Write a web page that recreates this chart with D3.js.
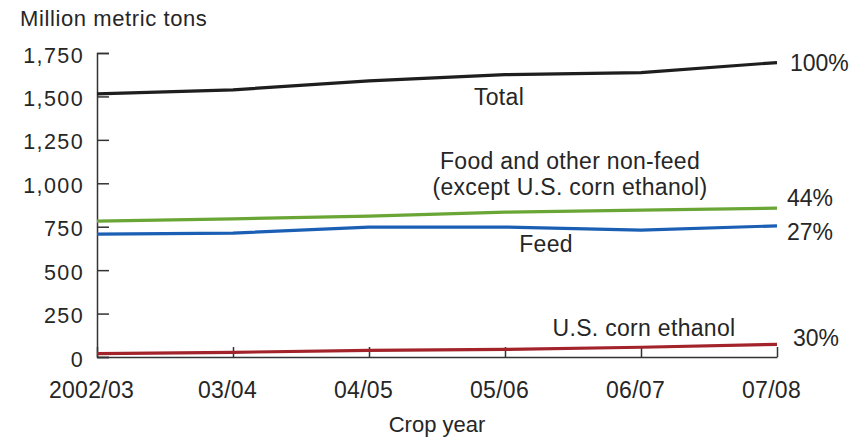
<!DOCTYPE html>
<html>
<head>
<meta charset="utf-8">
<script src="https://cdn.jsdelivr.net/npm/d3@7"></script>
<style>
  html, body { margin: 0; padding: 0; background: #fff; }
  svg text { font-family: "Liberation Sans", Arial, sans-serif; fill: #262626; }
</style>
</head>
<body>
<svg id="chart" width="864" height="440"></svg>
<script>
// Crop years on the x axis
const cropYears = ["2002/03", "03/04", "04/05", "05/06", "06/07", "07/08"];

// Corn use, million metric tons
const totalUse    = [1515, 1538, 1590, 1625, 1637, 1695];
const foodNonFeed = [782, 795, 811, 834, 846, 857];
const feedUse     = [707, 713, 748, 748, 730, 755];
const ethanolUse  = [20, 27, 38, 44, 56, 73];

const yTicks = [0, 250, 500, 750, 1000, 1250, 1500, 1750];

const seriesList = [
  { name: "Total",   values: totalUse,    color: "#1e1e1e", pct: "100%" },
  { name: "Food",    values: foodNonFeed, color: "#6aa636", pct: "44%" },
  { name: "Feed",    values: feedUse,     color: "#1b5fb5", pct: "27%" },
  { name: "Ethanol", values: ethanolUse,  color: "#a3232b", pct: "30%" }
];

const svg = d3.select("#chart");
const margin = { left: 97, right: 87, top: 53, bottom: 83 };
const W = 864, H = 440;

const x = d3.scalePoint().domain(cropYears).range([margin.left, W - margin.right]);
const y = d3.scaleLinear().domain([0, 1750]).range([H - margin.bottom, margin.top]);

// Y axis: ticks pointing into the plot
const yAxis = svg.append("g")
  .attr("transform", `translate(${margin.left},0)`)
  .call(d3.axisRight(y).tickValues(yTicks).tickSize(12).tickFormat(d3.format(",")));
yAxis.select(".domain").attr("stroke", "#333").attr("stroke-width", 1.5);
yAxis.selectAll(".tick line").attr("stroke", "#333").attr("stroke-width", 1.5);
yAxis.selectAll(".tick text")
  .attr("x", -13).attr("text-anchor", "end")
  .attr("font-size", 21.5).attr("letter-spacing", 1.4).attr("fill", "#262626")
  .attr("dy", "0.42em");

// X axis: ticks pointing up
const xAxis = svg.append("g")
  .attr("transform", `translate(0,${y(0)})`)
  .call(d3.axisTop(x).tickSize(10).tickSizeOuter(0));
xAxis.select(".domain").attr("stroke", "#333").attr("stroke-width", 1.5);
xAxis.selectAll(".tick line").attr("stroke", "#333").attr("stroke-width", 1.5);
xAxis.selectAll(".tick text")
  .attr("y", 41).attr("dy", 0).attr("dx", -6)
  .attr("font-size", 23).attr("letter-spacing", 0.3).attr("fill", "#262626");

// Series lines
const line = d3.line()
  .x((d, i) => x(cropYears[i]))
  .y(d => y(d));

svg.append("g").selectAll("path")
  .data(seriesList)
  .join("path")
  .attr("d", s => line(s.values))
  .attr("fill", "none")
  .attr("stroke", s => s.color)
  .attr("stroke-width", 3.2)
  .attr("stroke-linejoin", "round");

// Share labels at the right end of each line
const pctPlace = {
  Total:   { dx: 13, dy: 8 },
  Food:    { dx: 10, dy: -2 },
  Feed:    { dx: 10, dy: 14 },
  Ethanol: { dx: 16, dy: 2 }
};
svg.append("g").selectAll("text")
  .data(seriesList)
  .join("text")
  .attr("x", s => x(cropYears[cropYears.length - 1]) + pctPlace[s.name].dx)
  .attr("y", s => y(s.values[s.values.length - 1]) + pctPlace[s.name].dy)
  .attr("font-size", 23)
  .text(s => s.pct);

// Series names
const names = [
  { t: "Total", cx: 499, cy: 105 },
  { t: "Food and other non-feed", cx: 570, cy: 169 },
  { t: "(except U.S. corn ethanol)", cx: 570, cy: 195 },
  { t: "Feed", cx: 546, cy: 252 },
  { t: "U.S. corn ethanol", cx: 644, cy: 336 }
];
svg.append("g").selectAll("text")
  .data(names)
  .join("text")
  .attr("x", d => d.cx)
  .attr("y", d => d.cy)
  .attr("text-anchor", "middle")
  .attr("font-size", 23)
  .attr("letter-spacing", 0.3)
  .text(d => d.t);

// Axis titles
svg.append("text")
  .attr("x", 20).attr("y", 26)
  .attr("font-size", 22).attr("letter-spacing", 0.6)
  .text("Million metric tons");

svg.append("text")
  .attr("x", 437).attr("y", 432)
  .attr("text-anchor", "middle")
  .attr("font-size", 22)
  .text("Crop year");
</script>
</body>
</html>
